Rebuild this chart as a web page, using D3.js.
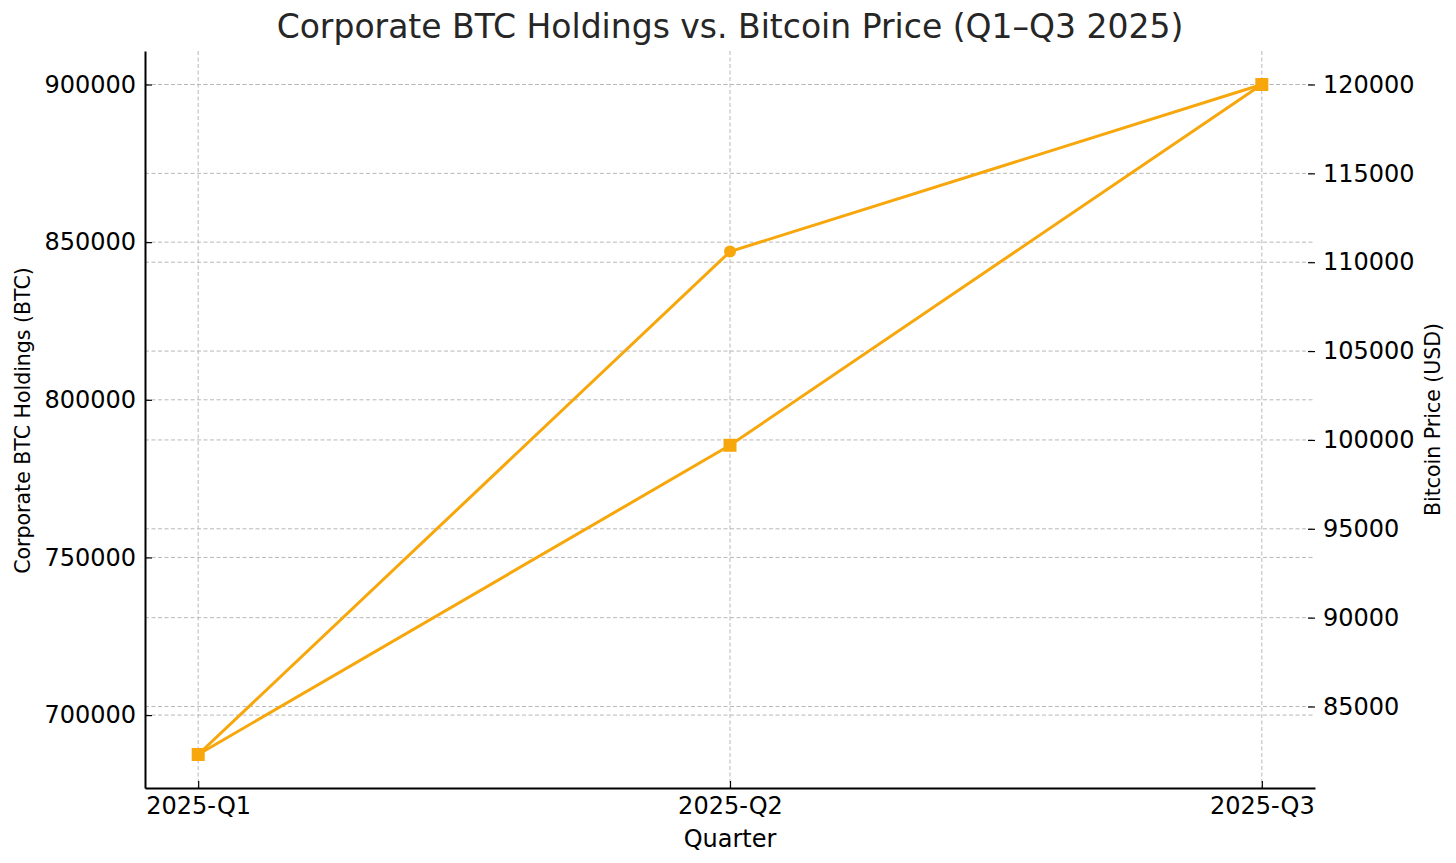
<!DOCTYPE html>
<html lang="en">
<head>
    <meta charset="UTF-8">
    <title>Corporate BTC Holdings vs. Bitcoin Price</title>
    <script src="https://d3js.org/d3.v7.min.js"></script>
    <style>
        body { margin: 0; background: #fff; }
        svg text { font-family: "DejaVu Sans", sans-serif; }
        .tick line { stroke: #000; stroke-width: 1.2; }
        .tick text { font-size: 24px; fill: #000; }
        .grid { stroke: #b8b8b8; stroke-width: 1; stroke-dasharray: 4,2.5; }
    </style>
</head>
<body>
    <div id="chart"></div>

    <script>
        // Data
        const quarters = ["2025-Q1", "2025-Q2", "2025-Q3"];
        const holdings = [687500, 847000, 900000];   // BTC, left axis
        const prices = [82300, 99700, 120000];       // USD, right axis
        const leftTicks = [700000, 750000, 800000, 850000, 900000];
        const rightTicks = [85000, 90000, 95000, 100000, 105000, 110000, 115000, 120000];

        const W = 1456, H = 863;
        const plot = { left: 145, right: 1315, top: 51, bottom: 788 };
        const lineColor = "#f7a70b";

        const svg = d3.select("#chart")
            .append("svg")
            .attr("width", W)
            .attr("height", H);

        // pad the data range by 5% like matplotlib does
        function padded(values) {
            const lo = d3.min(values), hi = d3.max(values);
            const p = (hi - lo) * 0.05;
            return [lo - p, hi + p];
        }

        const x = d3.scaleLinear()
            .domain([-0.1, quarters.length - 1 + 0.1])
            .range([plot.left, plot.right]);

        const yLeft = d3.scaleLinear()
            .domain(padded(holdings))
            .range([plot.bottom, plot.top]);

        const yRight = d3.scaleLinear()
            .domain(padded(prices))
            .range([plot.bottom, plot.top]);

        // Grid lines (both y axes + x)
        const grid = svg.append("g");
        grid.selectAll(".gx")
            .data(quarters)
            .enter()
            .append("line")
            .attr("class", "grid")
            .attr("x1", (d, i) => x(i)).attr("x2", (d, i) => x(i))
            .attr("y1", plot.top).attr("y2", plot.bottom);
        grid.selectAll(".gl")
            .data(leftTicks)
            .enter()
            .append("line")
            .attr("class", "grid")
            .attr("x1", plot.left).attr("x2", plot.right)
            .attr("y1", d => yLeft(d)).attr("y2", d => yLeft(d));
        grid.selectAll(".gr")
            .data(rightTicks)
            .enter()
            .append("line")
            .attr("class", "grid")
            .attr("x1", plot.left).attr("x2", plot.right)
            .attr("y1", d => yRight(d)).attr("y2", d => yRight(d));

        // Left axis
        const axL = svg.append("g")
            .attr("transform", `translate(${plot.left},0)`)
            .call(d3.axisLeft(yLeft).tickValues(leftTicks).tickFormat(d3.format("d"))
                .tickSizeInner(-7).tickSizeOuter(0).tickPadding(9));
        axL.select(".domain").attr("stroke", "#000").attr("stroke-width", 2);

        // Right axis (no spine)
        const axR = svg.append("g")
            .attr("transform", `translate(${plot.right},0)`)
            .call(d3.axisRight(yRight).tickValues(rightTicks).tickFormat(d3.format("d"))
                .tickSizeInner(-7).tickSizeOuter(0).tickPadding(8));
        axR.select(".domain").remove();

        // Bottom axis
        const axB = svg.append("g")
            .attr("transform", `translate(0,${plot.bottom})`)
            .call(d3.axisBottom(x).tickValues(d3.range(quarters.length)).tickFormat(i => quarters[i])
                .tickSizeInner(-7).tickSizeOuter(0).tickPadding(9));
        axB.select(".domain").attr("stroke", "#000").attr("stroke-width", 2);

        // Holdings line with circles
        const lineL = d3.line().x((d, i) => x(i)).y(d => yLeft(d));
        svg.append("path")
            .datum(holdings)
            .attr("d", lineL)
            .attr("fill", "none")
            .attr("stroke", lineColor)
            .attr("stroke-width", 3);
        svg.selectAll(".dot")
            .data(holdings)
            .enter()
            .append("circle")
            .attr("cx", (d, i) => x(i))
            .attr("cy", d => yLeft(d))
            .attr("r", 6)
            .attr("fill", lineColor);

        // Price line with squares
        const lineR = d3.line().x((d, i) => x(i)).y(d => yRight(d));
        svg.append("path")
            .datum(prices)
            .attr("d", lineR)
            .attr("fill", "none")
            .attr("stroke", lineColor)
            .attr("stroke-width", 3);
        svg.selectAll(".sq")
            .data(prices)
            .enter()
            .append("rect")
            .attr("x", (d, i) => x(i) - 6.5)
            .attr("y", d => yRight(d) - 6.5)
            .attr("width", 13)
            .attr("height", 13)
            .attr("fill", lineColor);

        // Title and axis labels
        svg.append("text")
            .attr("x", (plot.left + plot.right) / 2)
            .attr("y", 38)
            .attr("text-anchor", "middle")
            .attr("font-size", 33)
            .attr("fill", "#262626")
            .text("Corporate BTC Holdings vs. Bitcoin Price (Q1\u2013Q3 2025)");

        svg.append("text")
            .attr("x", (plot.left + plot.right) / 2)
            .attr("y", 847)
            .attr("text-anchor", "middle")
            .attr("font-size", 24)
            .text("Quarter");

        svg.append("text")
            .attr("transform", `translate(30,${(plot.top + plot.bottom) / 2 + 1}) rotate(-90)`)
            .attr("text-anchor", "middle")
            .attr("font-size", 20.5)
            .text("Corporate BTC Holdings (BTC)");

        svg.append("text")
            .attr("transform", `translate(1440,${(plot.top + plot.bottom) / 2}) rotate(-90)`)
            .attr("text-anchor", "middle")
            .attr("font-size", 20.5)
            .text("Bitcoin Price (USD)");
    </script>
</body>
</html>
